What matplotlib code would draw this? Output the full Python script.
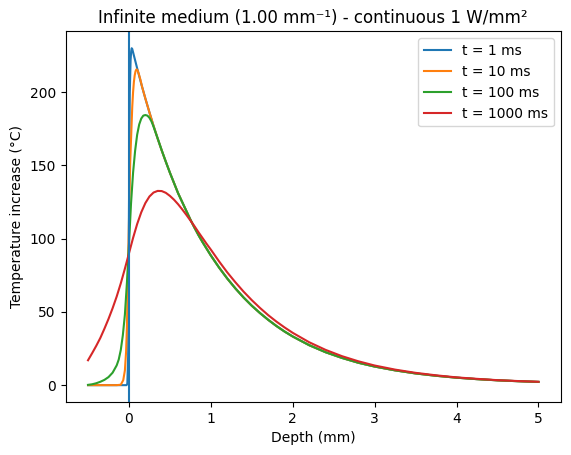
import matplotlib
matplotlib.use("Agg")
import matplotlib.pyplot as plt

# ---- data ----
title = "Infinite medium (1.00 mm\u207b\u00b9) - continuous 1 W/mm\u00b2"
xlabel = "Depth (mm)"
ylabel = "Temperature increase (\u00b0C)"
labels = ["t = 1 ms", "t = 10 ms", "t = 100 ms", "t = 1000 ms"]
surface_depth = 0.0

# common tail shared by the 1, 10 and 100 ms curves
tail_depth = [0.45, 0.5, 0.55, 0.6, 0.65, 0.7, 0.75, 0.8, 0.85, 0.9, 0.95, 1.0,
              1.1, 1.2, 1.3, 1.4, 1.5, 1.6, 1.7, 1.8, 1.9, 2.0, 2.2, 2.4, 2.6,
              2.8, 3.0, 3.25, 3.5, 3.75, 4.0, 4.25, 4.5, 4.75, 5.0]
tail_temp = [152.5, 145, 138, 131, 125, 119, 113, 107.5, 102.3, 97.5, 93, 88.5,
             80.3, 72.8, 66, 59.8, 54.2, 49.2, 44.6, 40.4, 36.6, 33.2, 27.3,
             22.5, 18.6, 15.3, 12.7, 10.1, 8.0, 6.4, 5.1, 4.1, 3.3, 2.7, 2.2]

depth_1ms = [-0.5, -0.3, -0.1, -0.03, -0.02, -0.01, 0.0, 0.01, 0.02, 0.027,
             0.033, 0.04, 0.05, 0.075, 0.1, 0.125, 0.15, 0.2, 0.25, 0.3, 0.35,
             0.4]
temp_1ms = [0, 0, 0, 0, 1, 20, 120, 200, 222, 228,
            230, 229.5, 227.3, 221.8, 216.3, 211, 205.7, 195.7, 186.2, 177,
            168.4, 160.2]

depth_10ms = [-0.5, -0.3, -0.15, -0.1, -0.07, -0.05, -0.035, -0.025, -0.015,
              -0.005, 0.005, 0.015, 0.03, 0.04, 0.05, 0.06, 0.07, 0.08, 0.09,
              0.1, 0.11, 0.12, 0.14, 0.16, 0.2, 0.25, 0.3, 0.35, 0.4]
temp_10ms = [0, 0, 0, 0.3, 3.4, 10, 23, 40, 68,
             97, 126, 152, 175, 190, 200, 207, 211.5, 214.3, 215.5,
             215.4, 214.2, 212.5, 208.5, 203.7, 195.7, 186.2, 177, 168.4,
             160.2]

depth_100ms = [-0.5, -0.45, -0.4, -0.35, -0.3, -0.25, -0.2, -0.15, -0.125,
               -0.1, -0.075, -0.05, -0.025, 0.0, 0.025, 0.05, 0.075, 0.1,
               0.125, 0.15, 0.175, 0.2, 0.225, 0.25, 0.275, 0.3, 0.35, 0.4]
temp_100ms = [0.2, 0.6, 1.3, 2.3, 3.6, 5.5, 8.5, 13.5, 17.5,
              24, 34, 48, 70, 96, 124, 145, 160, 171,
              178, 182, 184, 184.4, 184, 182.5, 180, 176.5, 168.5, 160.3]

depth_1000ms = [-0.5, -0.45, -0.4, -0.35, -0.3, -0.25, -0.2, -0.15, -0.1,
                -0.05, 0.0, 0.05, 0.1, 0.15, 0.2, 0.25, 0.3, 0.35, 0.4, 0.45,
                0.5, 0.55, 0.6, 0.65, 0.7, 0.75, 0.8, 0.85, 0.9, 0.95, 1.0,
                1.1, 1.2, 1.3, 1.4, 1.5, 1.6, 1.7, 1.8, 1.9, 2.0, 2.2, 2.4,
                2.6, 2.8, 3.0, 3.25, 3.5, 3.75, 4.0, 4.25, 4.5, 4.75, 5.0]
temp_1000ms = [17, 21.8, 26.8, 32.2, 38.5, 45.2, 52.5, 60.5, 69.5,
               79.5, 90, 100.5, 110, 118, 124.3, 128.8, 131.5, 132.6, 132.5,
               131.3, 129.2, 126.6, 123.5, 120, 116.3, 112.4, 108.5, 104.3,
               100.3, 96.3, 92.5, 84.5, 77, 70.2, 63.8, 58, 52.7, 47.8, 43.4,
               39.4, 35.7, 29.3, 24.1, 19.8, 16.3, 13.4, 10.6, 8.4, 6.7, 5.3,
               4.3, 3.4, 2.8, 2.3]

# ---- figure ----
fig = plt.figure(figsize=(5.71, 4.55), dpi=100)
ax = fig.add_axes([65.5 / 571, 53 / 455, 495.5 / 571, 370.6 / 455])

series = [
    (depth_1ms + tail_depth, temp_1ms + tail_temp),
    (depth_10ms + tail_depth, temp_10ms + tail_temp),
    (depth_100ms + tail_depth, temp_100ms + tail_temp),
    (depth_1000ms, temp_1000ms),
]
for (x, y), lab in zip(series, labels):
    ax.plot(x, y, label=lab)

ax.axvline(surface_depth)

ax.set_title(title)
ax.set_xlabel(xlabel)
ax.set_ylabel(ylabel)
ax.legend(loc="upper right")

fig.savefig("out.png", dpi=100)
